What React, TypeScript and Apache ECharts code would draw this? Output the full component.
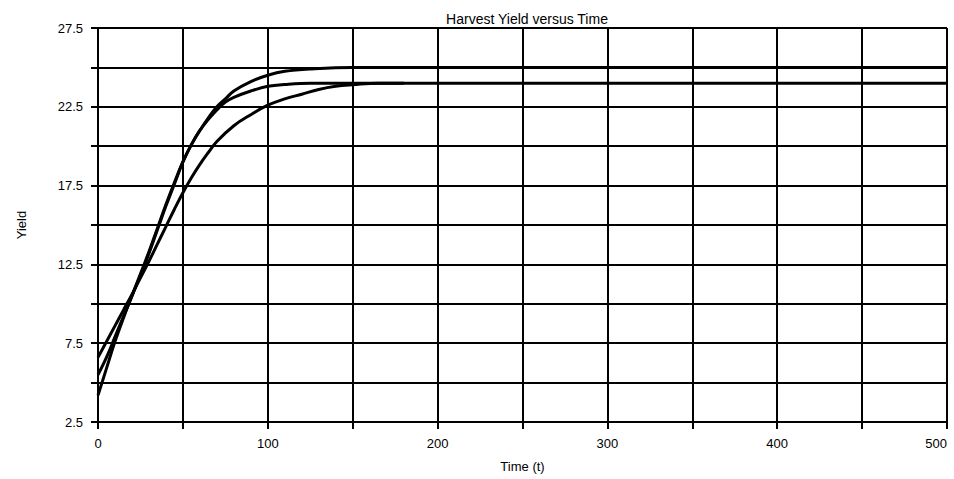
import React, { useEffect, useRef } from "react";
import * as echarts from "echarts";

// Time values (t) and yields
const timeA = [0, 5, 10, 15, 20, 25, 30, 35, 40, 45, 50, 55, 60, 65, 70, 75, 80, 90, 100, 110, 125, 150, 175, 200, 250, 300, 350, 400, 450, 500];
const yieldA = [5.5, 6.6, 7.9, 9.2, 10.5, 11.8, 13.2, 14.7, 16.2, 17.6, 19.0, 20.1, 21.0, 21.8, 22.5, 23.0, 23.5, 24.1, 24.5, 24.75, 24.9, 25.0, 25.0, 25.0, 25.0, 25.0, 25.0, 25.0, 25.0, 25.0];

const timeB = [0, 5, 10, 15, 20, 25, 30, 35, 40, 45, 50, 55, 60, 65, 70, 75, 80, 90, 100, 110, 125, 150, 175, 200, 250, 300, 350, 400, 450, 500];
const yieldB = [4.2, 5.9, 7.6, 9.1, 10.5, 11.9, 13.3, 14.8, 16.3, 17.7, 19.0, 20.1, 21.0, 21.7, 22.3, 22.8, 23.1, 23.5, 23.8, 23.92, 24.0, 24.0, 24.0, 24.0, 24.0, 24.0, 24.0, 24.0, 24.0, 24.0];

const timeC = [0, 5, 10, 15, 20, 25, 30, 35, 40, 45, 50, 55, 60, 65, 70, 80, 90, 100, 110, 120, 130, 140, 150, 165, 180];
const yieldC = [6.6, 7.6, 8.6, 9.6, 10.6, 11.65, 12.7, 13.8, 14.9, 16.0, 17.05, 18.0, 18.85, 19.6, 20.3, 21.3, 22.0, 22.6, 23.0, 23.3, 23.6, 23.8, 23.9, 24.0, 24.0];

const xTickLabels = [0, 100, 200, 300, 400, 500];
const yTickLabels = [2.5, 7.5, 12.5, 17.5, 22.5, 27.5];

const FONT = "'Liberation Sans', Arial, sans-serif";

function pairs(t: number[], v: number[]) {
  return t.map((x, i) => [x, v[i]]);
}

export default function App() {
  const ref = useRef<HTMLDivElement>(null);
  useEffect(() => {
    if (!ref.current) return;
    const chart = echarts.init(ref.current, undefined, { renderer: "svg" });
    const lineSeries = (name: string, t: number[], v: number[]) => ({
      name,
      type: "line",
      data: pairs(t, v),
      smooth: 0.4,
      showSymbol: false,
      symbol: "none",
      lineStyle: { color: "#000", width: 3 },
    });
    chart.setOption({
      animation: false,
      backgroundColor: "#fff",
      title: {
        text: "Harvest Yield versus Time",
        left: 522,
        textAlign: "center",
        top: 7,
        textStyle: { fontFamily: FONT, fontSize: 14, fontWeight: "normal", color: "#000" },
      },
      grid: {
        left: 98,
        right: 7,
        top: 28,
        bottom: 57,
        containLabel: false,
        outerBoundsMode: "none",
      },
      xAxis: {
        type: "value",
        min: 0,
        max: 500,
        interval: 50,
        name: "Time (t)",
        nameLocation: "middle",
        nameGap: 38,
        nameTextStyle: { fontFamily: FONT, fontSize: 13, color: "#000" },
        axisLine: { show: true, lineStyle: { color: "#000", width: 2 } },
        axisTick: { show: true, length: 7, lineStyle: { color: "#000", width: 2 } },
        axisLabel: {
          margin: 15,
          fontFamily: FONT,
          fontSize: 13,
          color: "#000",
          alignMaxLabel: "right",
          formatter: (v: number) => (xTickLabels.includes(v) ? String(v) : ""),
        },
        splitLine: { show: true, lineStyle: { color: "#000", width: 2 } },
      },
      yAxis: {
        type: "value",
        min: 2.5,
        max: 27.5,
        interval: 2.5,
        name: "Yield",
        nameLocation: "middle",
        nameGap: 70,
        nameRotate: 90,
        nameTextStyle: { fontFamily: FONT, fontSize: 13, color: "#000" },
        axisLine: { show: true, lineStyle: { color: "#000", width: 2 } },
        axisTick: { show: true, length: 7, lineStyle: { color: "#000", width: 2 } },
        axisLabel: {
          margin: 15,
          fontFamily: FONT,
          fontSize: 13,
          color: "#000",
          formatter: (v: number) =>
            yTickLabels.some((y) => Math.abs(y - v) < 1e-6) ? v.toFixed(1) : "",
        },
        splitLine: { show: true, lineStyle: { color: "#000", width: 2 } },
      },
      series: [
        lineSeries("A", timeA, yieldA),
        lineSeries("B", timeB, yieldB),
        lineSeries("C", timeC, yieldC),
      ],
    });
    return () => chart.dispose();
  }, []);
  return (
    <div
      ref={ref}
      style={{ width: 954, height: 479, position: "absolute", left: 0, top: 0 }}
    />
  );
}
